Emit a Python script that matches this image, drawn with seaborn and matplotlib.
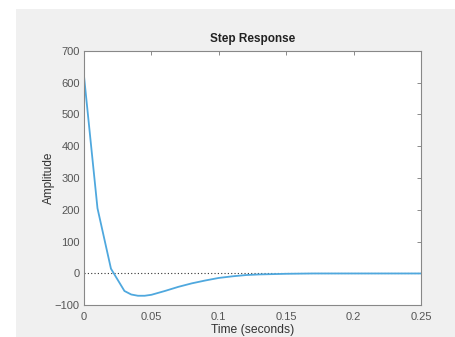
import matplotlib
matplotlib.use("Agg")
import matplotlib.pyplot as plt
import seaborn as sns
import pandas as pd
from matplotlib.patches import Rectangle

time_s = [0.00, 0.01, 0.02, 0.03, 0.035, 0.04, 0.045, 0.05, 0.06, 0.07, 0.08, 0.09,
          0.10, 0.11, 0.12, 0.13, 0.14, 0.15, 0.16, 0.17, 0.18, 0.19,
          0.20, 0.21, 0.22, 0.23, 0.24, 0.25]
amplitude = [620, 205, 15, -55, -66, -70, -70, -67, -55, -42, -31, -22,
             -14, -9, -5, -3, -2, -1, -0.5, 0, 0, 0,
             0, 0, 0, 0, 0, 0]
x_ticks = [0, 0.05, 0.1, 0.15, 0.2, 0.25]
x_tick_labels = ["0", "0.05", "0.1", "0.15", "0.2", "0.25"]
y_ticks = [-100, 0, 100, 200, 300, 400, 500, 600, 700]

sns.set_style("white")
plt.rcParams['font.family'] = ['Liberation Sans', 'DejaVu Sans']

fig = plt.figure(figsize=(4.55, 3.37), dpi=100, facecolor="white")
bg = Rectangle((16/455, 0), 1, 1 - 9/337, transform=fig.transFigure,
               facecolor="#f0f0f0", edgecolor="none", zorder=-10)
fig.add_artist(bg)
ax = fig.add_axes([84/455, 1 - 305.3/337, (421-84)/455, (305.3-50.7)/337])
ax.set_zorder(5)
ax.set_facecolor("white")

df = pd.DataFrame({"t": time_s, "a": amplitude})
ax.axhline(0, color="#333333", linestyle=(0, (1, 2)), linewidth=0.8, zorder=1)
sns.lineplot(data=df, x="t", y="a", ax=ax, color="#4fa8de", linewidth=1.3, zorder=2)

ax.set_xlim(0, 0.25)
ax.set_ylim(-100, 700)
ax.set_xticks(x_ticks)
ax.set_xticklabels(x_tick_labels)
ax.set_yticks(y_ticks)
ax.tick_params(axis="both", direction="in", length=3, width=0.6, color="#777777",
               labelsize=8, labelcolor="#555555", top=True, right=True, pad=3)
ax.tick_params(axis="x", pad=5)
for s in ax.spines.values():
    s.set_color("#888888")
    s.set_linewidth(0.8)

ax.set_title("Step Response", fontsize=8.5, fontweight="bold", color="#222222", pad=6)
ax.set_xlabel("Time (seconds)", fontsize=8.7, color="#333333", labelpad=1)
ax.set_ylabel("Amplitude", fontsize=8.5, color="#333333", labelpad=0)

fig.savefig("out.png", dpi=100, facecolor=fig.get_facecolor())
